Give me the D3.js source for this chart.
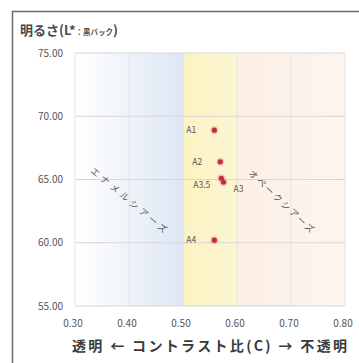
<!DOCTYPE html>
<html><head><meta charset="utf-8">
<script src="https://cdn.jsdelivr.net/npm/d3@7"></script>
<style>
html,body{margin:0;padding:0;background:#fff;}
svg{display:block;}
text{font-family:"Noto Sans CJK JP","Noto Sans",sans-serif;}
</style></head>
<body><svg id="c" width="359" height="363"></svg>
<script>
const labels = ["A1","A2","A3.5","A3","A4"];
const contrast = [0.558, 0.569, 0.571, 0.575, 0.558];
const lightness = [68.9, 66.4, 65.1, 64.8, 60.2];
const xTicks = [0.30,0.40,0.50,0.60,0.70,0.80];
const yTicks = [55,60,65,70,75];
const zones = [[0.30,0.50],[0.50,0.60],[0.60,0.80]];
const annStart = [[0.331,65.8],[0.624,65.6]];
const annEnd = [[0.468,60.9],[0.740,60.9]];
const annText = ["エナメルシアーズ","オペークシアーズ"];

const svg = d3.select("#c");
const x = d3.scaleLinear().domain([0.30,0.80]).range([75,345]);
const y = d3.scaleLinear().domain([55,75]).range([306,53]);

const defs = svg.append("defs");
const g1 = defs.append("linearGradient").attr("id","gBlue").attr("x1","0").attr("x2","1").attr("y1","0").attr("y2","0");
g1.append("stop").attr("offset","0").attr("stop-color","#ffffff");
g1.append("stop").attr("offset","0.5").attr("stop-color","#eff3fa");
g1.append("stop").attr("offset","1").attr("stop-color","#dce6f4");
const g2 = defs.append("linearGradient").attr("id","gYel").attr("x1","0").attr("x2","1");
g2.append("stop").attr("offset","0").attr("stop-color","#fbf3c2");
g2.append("stop").attr("offset","1").attr("stop-color","#fcf6d2");
const g3 = defs.append("linearGradient").attr("id","gPeach").attr("x1","0").attr("x2","1");
g3.append("stop").attr("offset","0").attr("stop-color","#fcefe4");
g3.append("stop").attr("offset","1").attr("stop-color","#fdf5f0");
const fills = ["url(#gBlue)","url(#gYel)","url(#gPeach)"];

// frame
svg.append("path").attr("d","M12.5,363 L12.5,11.5 L359,11.5").attr("fill","none").attr("stroke","#6a6a6a").attr("stroke-width",1.5);

// title
const t = svg.append("text").attr("x",20).attr("y",35).attr("fill","#4a4a4a").attr("font-weight","bold").attr("font-size",13);
t.append("tspan").text("明るさ(L*");
t.append("tspan").attr("font-size",7.5).text("：黒バック");
t.append("tspan").text(")");

// zones
svg.selectAll("rect.zone").data(zones).join("rect")
  .attr("x",d=>x(d[0])).attr("width",d=>x(d[1])-x(d[0]))
  .attr("y",y(75)).attr("height",y(55)-y(75))
  .attr("fill",(d,i)=>fills[i]);

// grid
svg.selectAll("line.gy").data(yTicks).join("line")
  .attr("x1",x(0.30)).attr("x2",x(0.80)).attr("y1",d=>y(d)).attr("y2",d=>y(d))
  .attr("stroke","#d6d6d6").attr("stroke-width",1);
svg.selectAll("line.gx").data(xTicks).join("line")
  .attr("x1",d=>x(d)).attr("x2",d=>x(d)).attr("y1",y(75)).attr("y2",y(55))
  .attr("stroke","#e2e2e2").attr("stroke-width",1);

// axes labels
svg.selectAll("text.yt").data(yTicks).join("text")
  .attr("x",63).attr("y",d=>y(d)+3.5).attr("text-anchor","end")
  .attr("font-size",10).attr("fill","#555").attr("font-family","Liberation Sans Narrow, Liberation Sans, sans-serif")
  .text(d=>d3.format(".2f")(d));
svg.selectAll("text.xt").data(xTicks).join("text")
  .attr("x",d=>x(d)-2).attr("y",327).attr("text-anchor","middle")
  .attr("font-size",10).attr("fill","#555").attr("font-family","Liberation Sans Narrow, Liberation Sans, sans-serif")
  .text(d=>d3.format(".2f")(d));

// x title
svg.append("text").attr("x",72).attr("y",351).attr("font-size",14).attr("font-weight","bold").attr("fill","#3a3a3a")
  .attr("textLength",275).attr("lengthAdjust","spacing")
  .text("透明 ← コントラスト比(C) → 不透明");

// diagonal annotations
annText.forEach((s,i)=>{
  const x0=x(annStart[i][0]), y0=y(annStart[i][1]), x1=x(annEnd[i][0]), y1=y(annEnd[i][1]);
  const ang = Math.atan2(y1-y0,x1-x0)*180/Math.PI;
  const len = Math.hypot(x1-x0,y1-y0);
  svg.append("text").attr("transform",`translate(${x0},${y0}) rotate(${ang})`)
    .attr("font-size",9).attr("fill","#555").attr("dy",3)
    .attr("textLength",len).attr("lengthAdjust","spacing").text(s);
});

// points
const pts = labels.map((l,i)=>({l, c:contrast[i], v:lightness[i]}));
svg.selectAll("circle.halo").data(pts).join("circle")
  .attr("cx",d=>x(d.c)).attr("cy",d=>y(d.v)).attr("r",4).attr("fill","#f0a8b0").attr("opacity",0.6);
svg.selectAll("circle.pt").data(pts).join("circle")
  .attr("cx",d=>x(d.c)).attr("cy",d=>y(d.v)).attr("r",2.6).attr("fill","#c52d3f");

svg.selectAll("text.lb").data(pts).join("text")
  .attr("x",d=> d.l==="A3" ? x(d.c)+10 : x(d.c)-28)
  .attr("y",d=> (d.l==="A3"||d.l==="A3.5") ? y(d.v)+10 : y(d.v)+3)
  .attr("font-size",8.5).attr("fill","#555").attr("font-family","Liberation Sans, sans-serif")
  .text(d=>d.l);
</script></body></html>
